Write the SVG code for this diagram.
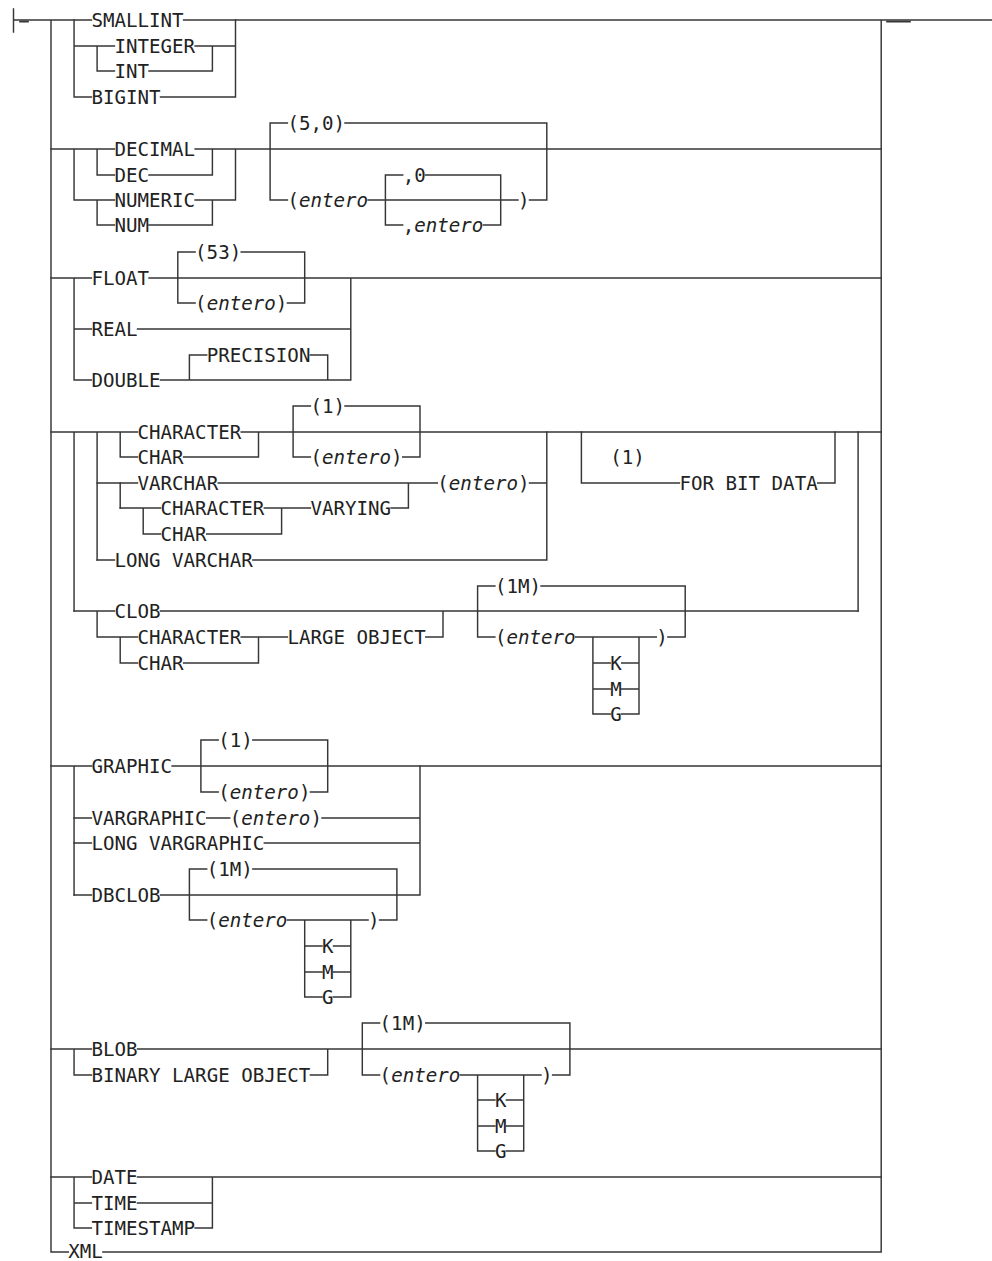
<svg xmlns="http://www.w3.org/2000/svg" width="992" height="1261" viewBox="0 0 992 1261">
<style>
text{font-family:"DejaVu Sans Mono","Liberation Mono",monospace;font-size:19.15px;fill:#222}
.it{font-style:italic}
.c path{fill:none;stroke:#363636;stroke-width:1.45;stroke-linecap:square}
</style>
<rect width="992" height="1261" fill="#fff"/>
<g class="c" id="connectors">
<path d="M13.5 9V32M13.5 20H91.4M183.6 20H992M51 20V1252H68.3M881.2 20V1252M102.9 1252H881.2"/>
<path d="M20 21.6H28M887 21.6H910" style="stroke-width:1.6"/>
<!-- section 1 -->
<path d="M74.06 20V97M74.06 46H114.4M195.1 46H235.5M97.1 46V71M97.1 71H114.4M149 71H212.4M212.4 46V71M74.06 97H91.4M160.5 97H235.5M235.5 20V97"/>
<!-- section 2 -->
<path d="M51 149H114.4M195.1 149H881.2M74.06 149V200M97.1 149V175M97.1 200V225M97.1 175H114.4M149 175H212.4M212.4 149V175M212.4 200V225M74.06 200H114.4M195.1 200H235.5M97.1 225H114.4M149 225H212.4M235.5 149V200"/>
<path d="M270.1 123V200M270.1 123H287.4M345 123H546.8M546.8 123V200M270.1 200H287.4M368.1 200H518M529.5 200H546.8M385.4 175V225M385.4 175H402.7M425.7 175H500.7M500.7 175V225M385.4 225H402.7M483.4 225H500.7"/>
<!-- section 3 -->
<path d="M51 278H91.4M149 278H881.2M74.06 278V380M177.8 252V303M177.8 252H195.1M241.2 252H304.7M177.8 303H195.1M287.4 303H304.7M304.7 252V303M74.06 329H91.4M137.5 329H350.8M74.06 380H91.4M160.5 380H350.8M189.4 355V380M189.4 355H206.7M310.4 355H327.7M327.7 355V380M350.8 278V380"/>
<!-- section 4 -->
<path d="M51 432H137.5M241.2 432H881.2M74.06 432V611M97.1 432V560M120.2 432V457M120.2 483V508M120.2 457H137.5M183.6 457H258.5M258.5 432V457"/>
<path d="M293.1 406V457M293.1 406H310.4M345 406H420M293.1 457H310.4M402.7 457H420M420 406V457"/>
<path d="M97.1 483H137.5M218.2 483H437.3M529.5 483H546.8M408.4 483V508M120.2 508H160.5M264.3 508H310.4M391.1 508H408.4M143.2 508V534M143.2 534H160.5M206.7 534H281.6M281.6 508V534M97.1 560H114.4M252.8 560H546.8M546.8 432V560"/>
<path d="M581.4 432V483M581.4 483H679.4M817.7 483H835M835 432V483M858.1 432V611"/>
<!-- CLOB -->
<path d="M74.06 611H114.4M160.5 611H858.1M97.1 611V637M97.1 637H137.5M241.2 637H287.4M425.7 637H443M120.2 637V663M120.2 663H137.5M183.6 663H258.5M258.5 637V663M443 611V637"/>
<path d="M477.6 586V637M477.6 586H494.9M541 586H685.2M477.6 637H494.9M575.6 637H656.3M667.9 637H685.2M685.2 586V637M592.9 637V714M639 637V714M592.9 663H610.2M621.7 663H639M592.9 689H610.2M621.7 689H639M592.9 714H610.2M621.7 714H639"/>
<!-- GRAPHIC -->
<path d="M51 766H91.4M172.1 766H881.2M74.06 766V895M200.9 740V792M200.9 740H218.2M252.8 740H327.7M200.9 792H218.2M310.4 792H327.7M327.7 740V792"/>
<path d="M74.06 818H91.4M206.7 818H229.7M322 818H420M74.06 843H91.4M264.3 843H420M74.06 895H91.4M160.5 895H420M420 766V895"/>
<path d="M189.4 869V920M189.4 869H206.7M252.8 869H396.9M189.4 920H206.7M287.4 920H368.1M379.6 920H396.9M396.9 869V920M304.7 920V997M350.8 920V997M304.7 946H322M333.5 946H350.8M304.7 972H322M333.5 972H350.8M304.7 997H322M333.5 997H350.8"/>
<!-- BLOB -->
<path d="M51 1049H91.4M137.5 1049H881.2M74.06 1049V1075M74.06 1075H91.4M310.4 1075H327.7M327.7 1049V1075"/>
<path d="M362.3 1023V1075M362.3 1023H379.6M425.7 1023H569.9M362.3 1075H379.6M460.3 1075H541M552.6 1075H569.9M569.9 1023V1075M477.6 1075V1151M523.7 1075V1151M477.6 1100H494.9M506.4 1100H523.7M477.6 1126H494.9M506.4 1126H523.7M477.6 1151H494.9M506.4 1151H523.7"/>
<!-- DATE -->
<path d="M51 1177H91.4M137.5 1177H881.2M74.06 1177V1228M74.06 1203H91.4M137.5 1203H212.4M74.06 1228H91.4M195.1 1228H212.4M212.4 1177V1228"/>
</g>
<g id="n-smallint"><text x="91.4" y="27">SMALLINT</text></g>
<g id="n-integer"><text x="114.4" y="53">INTEGER</text></g>
<g id="n-int"><text x="114.4" y="78">INT</text></g>
<g id="n-bigint"><text x="91.4" y="104">BIGINT</text></g>
<g id="n-decimal"><text x="114.4" y="156">DECIMAL</text></g>
<g id="n-dec"><text x="114.4" y="182">DEC</text></g>
<g id="n-numeric"><text x="114.4" y="207">NUMERIC</text></g>
<g id="n-num"><text x="114.4" y="232">NUM</text></g>
<g id="n-50"><text x="287.4" y="130">(5,0)</text></g>
<g id="n-dec-entero"><text x="287.4" y="207">(<tspan class="it">entero</tspan></text></g>
<g id="n-dec-close"><text x="518" y="207">)</text></g>
<g id="n-comma0"><text x="402.7" y="182">,0</text></g>
<g id="n-comma-entero"><text x="402.7" y="232">,<tspan class="it">entero</tspan></text></g>
<g id="n-float"><text x="91.4" y="285">FLOAT</text></g>
<g id="n-53"><text x="195.1" y="259">(53)</text></g>
<g id="n-float-entero"><text x="195.1" y="310">(<tspan class="it">entero</tspan>)</text></g>
<g id="n-real"><text x="91.4" y="336">REAL</text></g>
<g id="n-precision"><text x="206.7" y="362">PRECISION</text></g>
<g id="n-double"><text x="91.4" y="387">DOUBLE</text></g>
<g id="n-character"><text x="137.5" y="439">CHARACTER</text></g>
<g id="n-char"><text x="137.5" y="464">CHAR</text></g>
<g id="n-char-1"><text x="310.4" y="413">(1)</text></g>
<g id="n-char-entero"><text x="310.4" y="464">(<tspan class="it">entero</tspan>)</text></g>
<g id="n-varchar"><text x="137.5" y="490">VARCHAR</text></g>
<g id="n-varchar-entero"><text x="437.3" y="490">(<tspan class="it">entero</tspan>)</text></g>
<g id="n-character2"><text x="160.5" y="515">CHARACTER</text></g>
<g id="n-char2"><text x="160.5" y="541">CHAR</text></g>
<g id="n-varying"><text x="310.4" y="515">VARYING</text></g>
<g id="n-long-varchar"><text x="114.4" y="567">LONG VARCHAR</text></g>
<g id="n-note1"><text x="610.2" y="464">(1)</text></g>
<g id="n-for-bit-data"><text x="679.4" y="490">FOR BIT DATA</text></g>
<g id="n-clob"><text x="114.4" y="618">CLOB</text></g>
<g id="n-character3"><text x="137.5" y="644">CHARACTER</text></g>
<g id="n-char3"><text x="137.5" y="670">CHAR</text></g>
<g id="n-large-object"><text x="287.4" y="644">LARGE OBJECT</text></g>
<g id="n-clob-1m"><text x="494.9" y="593">(1M)</text></g>
<g id="n-clob-entero"><text x="494.9" y="644">(<tspan class="it">entero</tspan></text></g>
<g id="n-clob-close"><text x="656.3" y="644">)</text></g>
<g id="n-clob-k"><text x="610.2" y="670">K</text></g>
<g id="n-clob-m"><text x="610.2" y="696">M</text></g>
<g id="n-clob-g"><text x="610.2" y="721">G</text></g>
<g id="n-graphic"><text x="91.4" y="773">GRAPHIC</text></g>
<g id="n-graphic-1"><text x="218.2" y="747">(1)</text></g>
<g id="n-graphic-entero"><text x="218.2" y="799">(<tspan class="it">entero</tspan>)</text></g>
<g id="n-vargraphic"><text x="91.4" y="825">VARGRAPHIC</text></g>
<g id="n-vargraphic-entero"><text x="229.7" y="825">(<tspan class="it">entero</tspan>)</text></g>
<g id="n-long-vargraphic"><text x="91.4" y="850">LONG VARGRAPHIC</text></g>
<g id="n-dbclob"><text x="91.4" y="902">DBCLOB</text></g>
<g id="n-dbclob-1m"><text x="206.7" y="876">(1M)</text></g>
<g id="n-dbclob-entero"><text x="206.7" y="927">(<tspan class="it">entero</tspan></text></g>
<g id="n-dbclob-close"><text x="368.1" y="927">)</text></g>
<g id="n-dbclob-k"><text x="322" y="953">K</text></g>
<g id="n-dbclob-m"><text x="322" y="979">M</text></g>
<g id="n-dbclob-g"><text x="322" y="1004">G</text></g>
<g id="n-blob"><text x="91.4" y="1056">BLOB</text></g>
<g id="n-binary-large-object"><text x="91.4" y="1082">BINARY LARGE OBJECT</text></g>
<g id="n-blob-1m"><text x="379.6" y="1030">(1M)</text></g>
<g id="n-blob-entero"><text x="379.6" y="1082">(<tspan class="it">entero</tspan></text></g>
<g id="n-blob-close"><text x="541" y="1082">)</text></g>
<g id="n-blob-k"><text x="494.9" y="1107">K</text></g>
<g id="n-blob-m"><text x="494.9" y="1133">M</text></g>
<g id="n-blob-g"><text x="494.9" y="1158">G</text></g>
<g id="n-date"><text x="91.4" y="1184">DATE</text></g>
<g id="n-time"><text x="91.4" y="1210">TIME</text></g>
<g id="n-timestamp"><text x="91.4" y="1235">TIMESTAMP</text></g>
<g id="n-xml"><text x="68.3" y="1258">XML</text></g>
</svg>
